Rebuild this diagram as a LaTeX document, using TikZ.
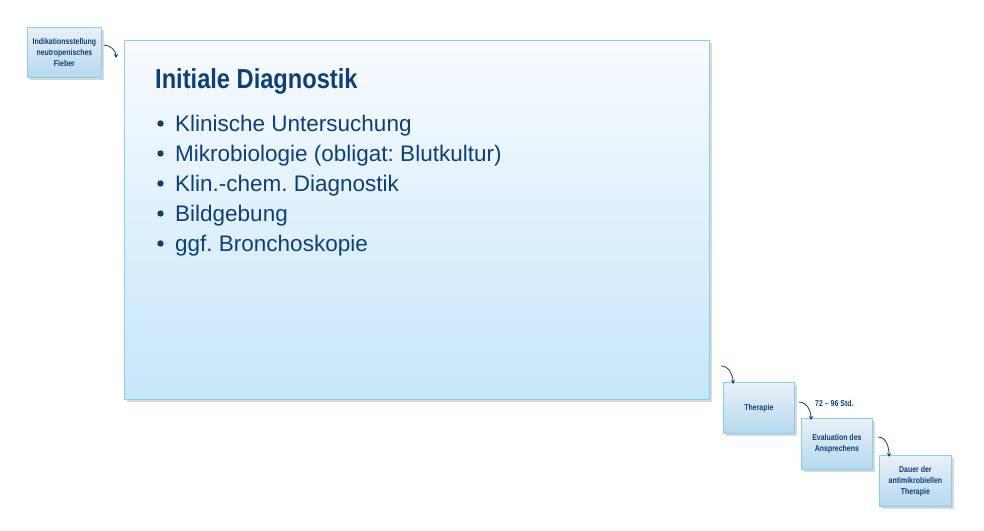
\documentclass[tikz,border=0pt]{standalone}
\usepackage{fontspec}
\setmainfont{Liberation Sans}
\newfontfamily\cond[FakeStretch=0.82]{Liberation Sans}
\newfontfamily\condt[FakeStretch=0.86]{Liberation Sans}
\usetikzlibrary{shadows,arrows.meta}
\definecolor{navy}{HTML}{0E3F78}
\definecolor{edge}{HTML}{86CDF0}
\definecolor{bigtop}{HTML}{F8FBFE}
\definecolor{bigbot}{HTML}{C6E6F9}
\definecolor{smtop}{HTML}{EAF0F7}
\definecolor{smbot}{HTML}{B4D9EF}
\tikzset{
  panel/.style={draw=edge, line width=0.8pt, anchor=north west, inner sep=0pt,
    top color=bigtop, bottom color=bigbot,
    drop shadow={shadow xshift=3pt, shadow yshift=-3pt, opacity=0.25, fill=black!60}},
  stepbox/.style={draw=edge, line width=0.8pt, anchor=north west, inner sep=0pt,
    top color=smtop, bottom color=smbot, minimum width=71pt, minimum height=51pt,
    align=center, text=navy, font=\cond\bfseries\fontsize{8.5}{11}\selectfont,
    drop shadow={shadow xshift=2.5pt, shadow yshift=-2.5pt, opacity=0.25, fill=black!60}},
  flow/.style={navy, line width=0.8pt, -{Stealth[length=4pt,width=4pt]}},
  bullettext/.style={anchor=base west, text=navy, font=\fontsize{22.5}{26}\selectfont, inner sep=0pt}
}
\begin{document}
\frenchspacing
\begin{tikzpicture}[x=1pt,y=-1pt]
\useasboundingbox (0,0) rectangle (984,530);
% small first box
\node[stepbox, minimum width=74pt, minimum height=50pt] (ind) at (27,27) {Indikationsstellung\\neutropenisches\\Fieber};
% big box
\node[panel, minimum width=585pt, minimum height=359pt] (diag) at (124,40) {};
\node[anchor=base west, text=navy, inner sep=0pt, font=\condt\bfseries\fontsize{27.5}{30}\selectfont] (title) at (155,88) {Initiale Diagnostik};
\foreach \t [count=\i] in {Klinische Untersuchung, Mikrobiologie (obligat: Blutkultur), Klin.-chem. Diagnostik, Bildgebung, ggf. Bronchoskopie}{
  \fill[navy] (160.5,{93.5+30*\i}) circle (3.2pt);
  \node[bullettext] (b\i) at (175,{101+30*\i}) {\t};
}
% steps
\node[stepbox] (ther) at (723,382) {Therapie};
\node[stepbox] (eval) at (801,418) {Evaluation des\\Ansprechens};
\node[stepbox, minimum width=72pt] (dauer) at (879,455) {Dauer der\\antimikrobiellen\\Therapie};
\node[anchor=west, text=navy, inner sep=0pt, font=\cond\bfseries\fontsize{8.5}{9}\selectfont] (lbl) at (815,403) {72 – 96 Std.};
% arrows
\coordinate (a1e) at (116,58);
\coordinate (a2s) at (721,366);
\draw[flow] ([xshift=2pt,yshift=-18pt]ind.north east) to[out=0,in=90] (a1e);
\draw[flow] (a2s) to[out=0,in=90] ([xshift=10pt,yshift=-2pt]ther.north west);
\draw[flow] ([xshift=4pt,yshift=-20pt]ther.north east) to[out=0,in=90] ([xshift=10pt,yshift=-2pt]eval.north west);
\draw[flow] ([xshift=5pt,yshift=-19pt]eval.north east) to[out=0,in=90] ([xshift=10pt,yshift=-2pt]dauer.north west);
\end{tikzpicture}
\end{document}
